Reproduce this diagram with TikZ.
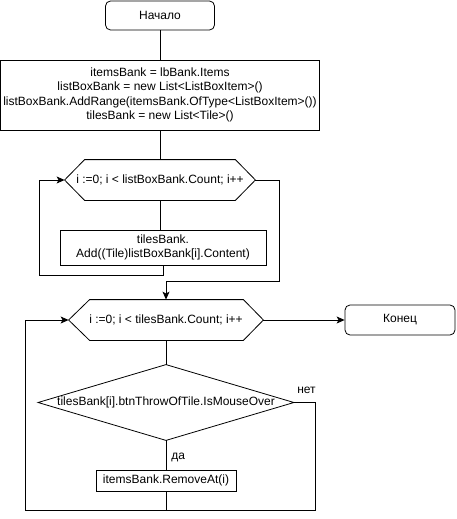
\documentclass[tikz,border=0pt]{standalone}
\usepackage{fontspec}
\setmainfont{Liberation Sans}
\usetikzlibrary{arrows.meta,calc}
\begin{document}
\begin{tikzpicture}[x=1pt,y=-1pt, line width=0.8pt,
  >={Stealth[length=8pt,width=7pt,inset=2pt]},
  font=\fontsize{12}{14.5}\selectfont,
  term/.style={draw, rounded corners=5pt, inner sep=0pt, align=center},
  proc/.style={draw, inner sep=0pt, align=center},
  hexa/.style={inner sep=0pt, align=center, minimum height=40pt},
  lbl/.style={inner sep=1pt, font=\fontsize{12}{14}\selectfont}]
\useasboundingbox (0,0) rectangle (457,519);

\node[term, minimum width=109pt, minimum height=29pt] (start) at (160,15.5) {Начало};
\node[proc, minimum width=319pt, minimum height=70pt] (init) at (160,95)
  {itemsBank = lbBank.Items\\listBoxBank = new List<ListBoxItem>()\\listBoxBank.AddRange(itemsBank.OfType<ListBoxItem>())\\tilesBank = new List<Tile>()};
\node[hexa, minimum width=190pt] (h1) at (160,180) {i :=0; i < listBoxBank.Count; i++};
\draw (h1.west) -- ([xshift=20pt]h1.north west) -- ([xshift=-20pt]h1.north east) -- (h1.east)
  -- ([xshift=-20pt]h1.south east) -- ([xshift=20pt]h1.south west) -- cycle;
\node[proc, minimum width=206pt, minimum height=35pt] (body1) at (163,247.5)
  {tilesBank.\\Add((Tile)listBoxBank[i].Content)};
\node[hexa, minimum width=194pt] (h2) at (166,320) {i :=0; i < tilesBank.Count; i++};
\draw (h2.west) -- ([xshift=21pt]h2.north west) -- ([xshift=-20pt]h2.north east) -- (h2.east)
  -- ([xshift=-20pt]h2.south east) -- ([xshift=21pt]h2.south west) -- cycle;
\node[term, minimum width=110pt, minimum height=30pt] (end) at (400,320) {Конец};
\node[inner sep=0pt, minimum width=255pt, minimum height=75pt] (dec) at (166,402.5)
  {tilesBank[i].btnThrowOfTile.IsMouseOver};
\draw (dec.west) -- (dec.north) -- (dec.east) -- (dec.south) -- cycle;
\node[proc, minimum width=140pt, minimum height=21pt] (body2) at (166,480.5) {itemsBank.RemoveAt(i)};

\coordinate (l1) at (39,275);
\coordinate (r1) at (279,281);
\coordinate (r2) at (315,510);
\coordinate (l2) at (25,510);

\draw (start) -- (init);
\draw (init) -- (h1);
\draw (h1.south) -- (h1.south |- body1.north);
\draw[->] (body1.south) |- (l1) |- (h1.west);
\draw[->] (h1.east) -| (r1) -| (h2.north);
\draw[->] (h2.east) -- (end.west);
\draw (h2.south) -- (dec.north);
\draw (dec.south) -- node[lbl, anchor=west, xshift=4pt, yshift=-2pt] (yes) {да} (body2.north);
\draw (dec.east) -| (r2) -- (body2.south |- r2);
\draw[->] (body2.south) |- (l2) |- (h2.west);
\node[lbl, anchor=base west] (no) at ($(dec.east)+(2,-9)$) {нет};
\end{tikzpicture}
\end{document}
